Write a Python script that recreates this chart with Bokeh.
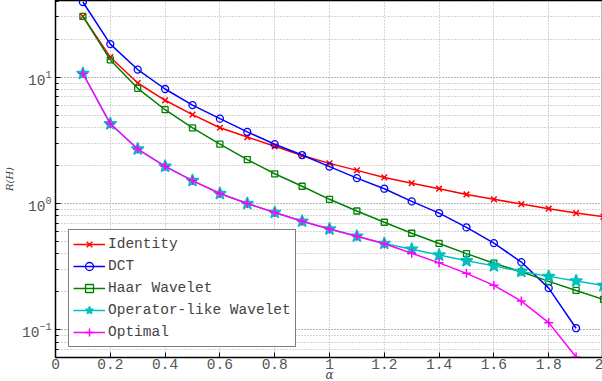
from bokeh.plotting import figure
from bokeh.models import Range1d, FixedTicker, Legend, LegendItem
from bokeh.embed import file_html
from bokeh.resources import INLINE

alpha = [0.1, 0.2, 0.3, 0.4, 0.5, 0.6, 0.7, 0.8, 0.9, 1.0,
         1.1, 1.2, 1.3, 1.4, 1.5, 1.6, 1.7, 1.8, 1.9, 2.0]
identity = [30.3, 14.4, 9.0, 6.57, 5.06, 3.98, 3.36, 2.84, 2.4, 2.08,
            1.83, 1.61, 1.45, 1.31, 1.18, 1.08, 0.99, 0.91, 0.84, 0.785]
dct_alpha = alpha[:19]
dct = [39.4, 18.3, 11.5, 8.07, 6.02, 4.7, 3.69, 2.95, 2.42, 1.96,
       1.59, 1.31, 1.04, 0.84, 0.647, 0.486, 0.344, 0.214, 0.103]
haar = [30.3, 13.7, 8.17, 5.53, 3.97, 2.95, 2.23, 1.72, 1.37, 1.08,
        0.873, 0.711, 0.582, 0.483, 0.401, 0.337, 0.288, 0.242, 0.205, 0.174]
oplike = [10.7, 4.28, 2.7, 1.97, 1.52, 1.2, 1.0, 0.85, 0.724, 0.628,
          0.551, 0.483, 0.435, 0.391, 0.352, 0.321, 0.29, 0.265, 0.244, 0.224]
opt_alpha = alpha[:19]
optimal = [10.7, 4.28, 2.7, 1.97, 1.52, 1.2, 1.0, 0.85, 0.724, 0.628,
           0.551, 0.48, 0.404, 0.339, 0.28, 0.225, 0.169, 0.114, 0.061]
x_ticks = [0, 0.2, 0.4, 0.6, 0.8, 1, 1.2, 1.4, 1.6, 1.8, 2]
x_tick_labels = {0: "0", 0.2: "0.2", 0.4: "0.4", 0.6: "0.6", 0.8: "0.8", 1: "1",
                 1.2: "1.2", 1.4: "1.4", 1.6: "1.6", 1.8: "1.8", 2: "2"}

FONT = "Liberation Mono"

p = figure(width=603, height=384, y_axis_type="log",
           x_range=Range1d(0, 2), y_range=Range1d(0.0604, 40.5),
           output_backend="svg", toolbar_location=None,
           min_border_left=47, min_border_top=0, min_border_right=0, min_border_bottom=0)
p.outline_line_color = "black"
p.outline_line_width = 1.5

xa = p.xaxis[0]
xa.ticker = FixedTicker(ticks=x_ticks)
xa.major_label_overrides = x_tick_labels
xa.axis_label = "α"
xa.axis_label_text_font = "DejaVu Serif"
xa.axis_label_text_font_style = "italic"
xa.axis_label_text_font_size = "12px"
xa.axis_label_standoff = -4
ya = p.yaxis[0]
ya.axis_label = "R(H)"
ya.axis_label_text_font = "DejaVu Serif"
ya.axis_label_text_font_style = "italic"
ya.axis_label_text_font_size = "10px"
ya.axis_label_standoff = 4
for a in (xa, ya):
    a.major_label_text_font = FONT
    a.major_label_text_font_size = "14.5px"
    a.major_label_text_color = "#555555"
    a.major_label_standoff = 4
    a.axis_line_color = "black"
    a.major_tick_in = 5
    a.major_tick_out = 0
    a.minor_tick_in = 3
    a.minor_tick_out = 0
    a.major_tick_line_color = "black"
    a.minor_tick_line_color = "black"
xa.minor_tick_line_color = None
xa.major_label_standoff = 1

p.xgrid.grid_line_color = "#aaaaaa"
p.xgrid.grid_line_dash = "1 2"
p.ygrid.grid_line_color = "#aaaaaa"
p.ygrid.grid_line_dash = "1 2"
p.ygrid.minor_grid_line_color = "#aaaaaa"
p.ygrid.minor_grid_line_dash = "1 2"

series = [
    ("Identity", alpha, identity, "#ff0000", "x", 8, False),
    ("DCT", dct_alpha, dct, "#0000ff", "circle", 7, True),
    ("Haar Wavelet", alpha, haar, "#008000", "square", 6, True),
    ("Operator-like Wavelet", alpha, oplike, "#00bfbf", "star", 13, False),
    ("Optimal", opt_alpha, optimal, "#ff00ff", "cross", 9, False),
]
items = []
for name, xs, ys, col, mk, sz, hollow in series:
    r1 = p.line(xs, ys, line_color=col, line_width=1.5)
    if hollow:
        r2 = p.scatter(xs, ys, marker=mk, size=sz, line_color=col, fill_color=None, line_width=1.3)
    else:
        r2 = p.scatter(xs, ys, marker=mk, size=sz, line_color=col, fill_color=col, line_width=1.5)
    items.append(LegendItem(label=name, renderers=[r1, r2]))

leg = Legend(items=items, location=(13, 10))
leg.label_text_font = FONT
leg.label_text_font_size = "14.5px"
leg.label_text_color = "#444444"
leg.border_line_color = "black"
leg.border_line_width = 1.5
leg.background_fill_alpha = 1
leg.glyph_width = 32
leg.glyph_height = 20
leg.label_height = 20
leg.spacing = 2
leg.padding = 4
leg.margin = 0
leg.label_standoff = 3
p.add_layout(leg, "center")

open("out.html", "w").write(file_html(p, INLINE))
